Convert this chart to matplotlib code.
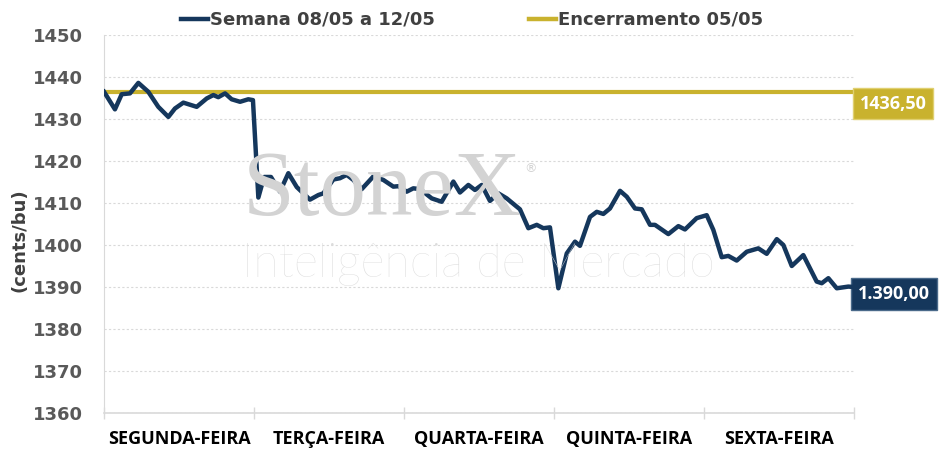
import matplotlib
matplotlib.use("Agg")
import matplotlib.pyplot as plt
from matplotlib.lines import Line2D

# dias da semana (categorias do eixo x)
dias = ["SEGUNDA-FEIRA", "TERÇA-FEIRA", "QUARTA-FEIRA", "QUINTA-FEIRA", "SEXTA-FEIRA"]

# tempo em sessões (0 = abertura de segunda, 5 = fechamento de sexta)
tempo = [0.000, 0.073, 0.118, 0.173, 0.229, 0.295, 0.362, 0.429, 0.473, 0.529,
         0.618, 0.685, 0.729, 0.762, 0.807, 0.851, 0.907, 0.962, 0.993, 1.029,
         1.067, 1.113, 1.173, 1.229, 1.285, 1.329, 1.373, 1.429, 1.462, 1.529,
         1.573, 1.618, 1.662, 1.718, 1.795, 1.862, 1.929, 1.962, 2.018, 2.062,
         2.107, 2.185, 2.251, 2.329, 2.373, 2.429, 2.473, 2.518, 2.573, 2.629,
         2.685, 2.773, 2.829, 2.885, 2.929, 2.973, 3.029, 3.085, 3.140, 3.173,
         3.240, 3.285, 3.329, 3.373, 3.440, 3.485, 3.540, 3.585, 3.640, 3.673,
         3.762, 3.829, 3.873, 3.951, 4.018, 4.062, 4.118, 4.162, 4.218, 4.285,
         4.362, 4.418, 4.485, 4.529, 4.585, 4.662, 4.751, 4.785, 4.829, 4.885,
         4.962, 5.000]

# preço (cents/bu)
preco = [1436.5, 1432.3, 1435.9, 1436.1, 1438.6, 1436.5, 1432.9, 1430.5, 1432.5, 1433.9,
         1432.9, 1434.9, 1435.7, 1435.2, 1436.1, 1434.7, 1434.1, 1434.7, 1434.5, 1411.3,
         1416.2, 1416.2, 1412.7, 1417.1, 1413.8, 1412.3, 1410.8, 1411.9, 1412.3, 1415.6,
         1415.9, 1416.7, 1415.5, 1413.3, 1416.3, 1415.5, 1413.9, 1414.0, 1412.7, 1413.5,
         1413.3, 1411.1, 1410.3, 1415.1, 1412.5, 1414.3, 1413.1, 1414.3, 1410.5, 1412.3,
         1411.1, 1408.5, 1404.0, 1404.8, 1404.0, 1404.2, 1389.7, 1398.0, 1400.8, 1399.8,
         1406.7, 1407.9, 1407.4, 1408.7, 1412.9, 1411.5, 1408.7, 1408.5, 1404.8, 1404.8,
         1402.6, 1404.5, 1403.7, 1406.4, 1407.1, 1403.6, 1397.1, 1397.4, 1396.3, 1398.4,
         1399.2, 1397.9, 1401.4, 1400.0, 1395.0, 1397.6, 1391.3, 1390.9, 1392.1, 1389.7,
         1390.1, 1390.0]

encerramento = 1436.50
ultimo = 1390.00

azul = "#15375c"
ouro = "#c9b22e"
cinza = "#d9d9d9"

fig = plt.figure(figsize=(9.42, 4.5), dpi=100)
ax = fig.add_axes([0.1104, 0.0822, 0.7962, 0.84])

# marca d'agua
fig.text(0.258, 0.522, "StoneX", fontsize=67, family="Liberation Serif",
         color="#d3d3d3", ha="left", va="baseline", zorder=0)
fig.text(0.557, 0.618, "®", fontsize=9, color="#d3d3d3", ha="left", va="baseline", zorder=0)
fig.text(0.257, 0.384, "Inteligência de Mercado", fontsize=33.5, family="Lato",
         fontweight="light", color="#dcdcdc", ha="left", va="baseline", zorder=0)
ax.patch.set_alpha(0)

ax.plot([0, len(dias)], [encerramento, encerramento], color=ouro, lw=3.0,
        solid_capstyle="butt", zorder=3)
ax.plot(tempo, preco, color=azul, lw=3.2, solid_joinstyle="round", zorder=4)

ax.set_xlim(0, len(dias))
ax.set_ylim(1360, 1450)
ax.set_yticks(range(1360, 1451, 10))
ax.set_xticks(range(len(dias) + 1))
ax.set_xticklabels([])
ax.set_xticks([i + 0.5 for i in range(len(dias))], minor=True)
ax.set_xticklabels(dias, minor=True, fontsize=13.0, fontweight="bold",
                   family="Open Sans", color="black")
ax.tick_params(axis="x", which="major", direction="inout", length=9, color=cinza, width=1)
ax.tick_params(axis="x", which="minor", length=0, pad=12)
ax.tick_params(axis="y", length=0, pad=15, labelsize=13, labelcolor="#595959")
for lab in ax.get_yticklabels():
    lab.set_fontweight("bold")
    lab.set_family("DejaVu Sans")

ax.grid(axis="y", color=cinza, lw=0.8, ls=(0, (2, 2)))
for s in ["top", "right"]:
    ax.spines[s].set_visible(False)
ax.spines["left"].set_color(cinza)
ax.spines["bottom"].set_color(cinza)
ax.spines["bottom"].set_linewidth(1.2)

ax.set_ylabel("(cents/bu)", fontsize=13, fontweight="bold", family="DejaVu Sans",
              color="#404040")
ax.yaxis.set_label_coords(-0.1, 0.458)

# rótulos de valor
ax.annotate("1436,50", xy=(len(dias), encerramento), xytext=(39, -12),
            textcoords="offset pixels", ha="center", va="center", color="white",
            fontsize=13, fontweight="bold", family="Open Sans", annotation_clip=False,
            bbox=dict(boxstyle="square,pad=0.37", fc=ouro, ec="#e0d070", lw=1))
ax.annotate("1.390,00", xy=(len(dias), ultimo), xytext=(40, -7),
            textcoords="offset pixels", ha="center", va="center", color="white",
            fontsize=13, fontweight="bold", family="Open Sans", annotation_clip=False,
            bbox=dict(boxstyle="square,pad=0.37", fc=azul, ec="#4a6a8a", lw=1))

handles = [Line2D([], [], color=azul, lw=3.2), Line2D([], [], color=ouro, lw=3.2)]
fig.legend(handles, ["Semana 08/05 a 12/05", "Encerramento 05/05"], loc="upper center",
           bbox_to_anchor=(0.501, 1.012), ncol=2, frameon=False, handlelength=1.5,
           handletextpad=0.1, columnspacing=5.2,
           prop=dict(family="DejaVu Sans", weight="bold", size=13), labelcolor="#404040")

fig.savefig("out.png", dpi=100)
